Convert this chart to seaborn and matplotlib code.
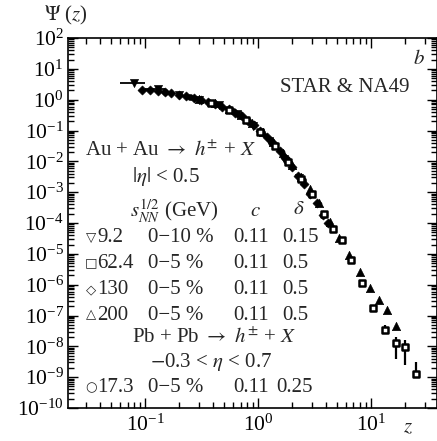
import numpy as np
import pandas as pd
import matplotlib
matplotlib.use("Agg")
import matplotlib.pyplot as plt
import seaborn as sns
from matplotlib.ticker import LogLocator, NullFormatter, FixedLocator

# Au+Au 9.2 GeV (down triangles)
z_92 = [0.08, 0.13, 0.2, 0.3, 0.45, 0.65, 0.9, 1.25, 1.7, 2.3]
psi_92 = [3.5, 2.2, 1.45, 1.0, 0.65, 0.34, 0.14, 0.045, 0.012, 0.0028]
zerr_lo_92 = [0.02, 0.03, 0, 0, 0, 0, 0, 0, 0, 0]
zerr_hi_92 = [0.02, 0.02, 0, 0, 0, 0, 0, 0, 0, 0]

# Au+Au 130 GeV (diamonds)
z_130 = [0.094, 0.11, 0.13, 0.15, 0.17, 0.2, 0.23, 0.27, 0.31, 0.36, 0.42,
         0.48, 0.55, 0.63, 0.72, 0.82, 0.93, 1.05, 1.2, 1.36, 1.55, 1.75,
         2.0, 2.25, 2.55, 2.9, 3.3, 3.75, 4.2]
psi_130 = [2.0, 2.1, 1.95, 1.8, 1.65, 1.45, 1.3, 1.12, 0.98, 0.85, 0.72,
           0.6, 0.48, 0.38, 0.29, 0.21, 0.15, 0.1, 0.063, 0.038, 0.022, 0.0125,
           0.0065, 0.0034, 0.0018, 9.0e-4, 4.3e-4, 1.8e-4, 1.0e-4]

# Au+Au 200 GeV (up triangles)
z_200 = [0.3, 0.42, 0.55, 0.7, 0.88, 1.1, 1.35, 1.65, 2.0, 2.4, 2.9, 3.5,
         4.3, 5.2, 6.4, 8.0, 9.8, 11.8, 13.8, 16.6]
psi_200 = [1.05, 0.76, 0.5, 0.32, 0.18, 0.089, 0.042, 0.018, 0.0076, 0.0032,
           0.0013, 4.5e-4, 1.1e-4, 3.2e-5, 8.9e-6, 2.5e-6, 7.9e-7, 3.2e-7, 1.5e-7, 4.5e-8]

# Au+Au 62.4 GeV (squares)
z_624 = [0.38, 0.55, 0.78, 1.05, 1.4, 1.85, 2.4, 3.0, 3.8, 4.6, 5.5, 6.7,
         8.3, 10.4, 13.3, 16.5, 20.0, 25.0]
psi_624 = [0.79, 0.47, 0.22, 0.089, 0.032, 0.0095, 0.0026, 8.9e-4, 1.9e-4,
           6.3e-5, 2.8e-5, 6.3e-6, 1.1e-6, 1.7e-7, 3.3e-8, 1.26e-8, 9.3e-9, 1.3e-9]
psi_lo_624 = [0.79, 0.47, 0.22, 0.089, 0.032, 0.0095, 0.0026, 8.9e-4, 1.9e-4,
              6.3e-5, 2.2e-5, 5.0e-6, 0.9e-6, 1.4e-7, 2.5e-8, 3.8e-9, 2.5e-9, 1.3e-9]
psi_hi_624 = [0.79, 0.47, 0.22, 0.089, 0.032, 0.0095, 0.0026, 8.9e-4, 1.9e-4,
              6.3e-5, 3.5e-5, 8.0e-6, 1.4e-6, 2.1e-7, 5.0e-8, 1.95e-8, 1.55e-8, 3.0e-9]

# Pb+Pb 17.3 GeV (circles)
z_173 = [0.15, 0.25, 0.4, 0.6, 0.9, 1.3, 1.8, 2.5]
psi_173 = [1.78, 1.23, 0.79, 0.42, 0.16, 0.045, 0.0117, 0.0025]

# axis ticks
x_major = [0.1, 1.0, 10.0]
y_major = [10.0 ** k for k in range(-10, 3)]

# legend table
rows_energy = ["9.2", "62.4", "130", "200"]
rows_cent = ["0\u221210 %", "0\u22125 %", "0\u22125 %", "0\u22125 %"]
rows_c = ["0.11", "0.11", "0.11", "0.11"]
rows_delta = ["0.15", "0.5", "0.5", "0.5"]
rows_sym = ["\u25bd", "\u25a1", "\u25c7", "\u25b3"]

sns.set_style("ticks")
plt.rcParams["font.family"] = ["Liberation Serif", "DejaVu Serif"]
plt.rcParams["mathtext.fontset"] = "stix"

W, H = 437, 441
fig = plt.figure(figsize=(W / 100, H / 100), dpi=100)
ax = fig.add_axes([68 / W, 1 - 408 / H, (437 - 68) / W, (408 - 38) / H])

df92 = pd.DataFrame({"z": z_92, "psi": psi_92})
df130 = pd.DataFrame({"z": z_130, "psi": psi_130})
df200 = pd.DataFrame({"z": z_200, "psi": psi_200})
df624 = pd.DataFrame({"z": z_624, "psi": psi_624})
df173 = pd.DataFrame({"z": z_173, "psi": psi_173})

ax.errorbar(z_92, psi_92, xerr=[zerr_lo_92, zerr_hi_92], fmt="none",
            ecolor="k", elinewidth=1.3, capsize=0)
yerr_624 = [np.array(psi_624) - np.array(psi_lo_624),
            np.array(psi_hi_624) - np.array(psi_624)]
ax.errorbar(z_624, psi_624, yerr=yerr_624, fmt="none", ecolor="k",
            elinewidth=1.6, capsize=0)

sns.scatterplot(data=df173, x="z", y="psi", marker="o", s=20, color="k",
                edgecolor="k", ax=ax, zorder=3)
sns.scatterplot(data=df92, x="z", y="psi", marker="v", s=34, color="k",
                edgecolor="k", ax=ax, zorder=3)
sns.scatterplot(data=df130, x="z", y="psi", marker="D", s=22, color="k",
                edgecolor="k", ax=ax, zorder=3)
sns.scatterplot(data=df200, x="z", y="psi", marker="^", s=36, color="k",
                edgecolor="k", ax=ax, zorder=4)
sns.scatterplot(data=df624, x="z", y="psi", marker="s", s=18, color="white",
                edgecolor="k", linewidth=1.8, ax=ax, zorder=5)

ax.set_xscale("log")
ax.set_yscale("log")
ax.set_xlim(0.0208, 38.4)
ax.set_ylim(1e-10, 1e2)
ax.set_xlabel("")
ax.set_ylabel("")

ax.yaxis.set_major_locator(FixedLocator(y_major))
ax.yaxis.set_minor_locator(LogLocator(base=10, subs=np.arange(2, 10), numticks=200))
ax.yaxis.set_minor_formatter(NullFormatter())
ax.xaxis.set_major_locator(FixedLocator(x_major))
ax.xaxis.set_minor_locator(LogLocator(base=10, subs=np.arange(2, 10), numticks=100))
ax.xaxis.set_minor_formatter(NullFormatter())
ax.tick_params(which="both", direction="in", top=True, right=True,
               labelsize=15.5, width=1, colors="k")
ax.tick_params(which="major", length=7)
ax.tick_params(which="minor", length=4)
ax.tick_params(axis="x", which="major", pad=5)
ax.tick_params(axis="y", which="major", pad=3)
for sp in ax.spines.values():
    sp.set_linewidth(1.2)
    sp.set_color("k")

fs = 15


def put(px, py, s, **kw):
    fig.text(px / W, 1 - py / H, s, ha=kw.pop("ha", "left"), va="center",
             fontsize=kw.pop("fontsize", fs), **kw)


put(44, 15, r"$\Psi$ ($z$)")
put(403, 428, r"$z$")
put(413, 59, r"$b$")
put(280, 88, "STAR & NA49")
put(85, 151, r"Au + Au $\rightarrow$ $h^{\pm}$ + $X$")
put(132, 176, r"$|\eta|$ < 0.5")
put(130, 211, r"$s_{NN}^{1/2}$ (GeV)")
put(250, 212, r"$c$")
put(293, 210, r"$\delta$")

row_y = [237, 263, 290, 315]
for yy, sym, en, ce, cc, dd in zip(row_y, rows_sym, rows_energy, rows_cent,
                                   rows_c, rows_delta):
    put(91, yy, sym, ha="center", fontsize=9.5, family="DejaVu Sans",
        fontweight="bold")
    put(97, yy, en)
    put(148, yy, ce)
    put(233, yy, cc)
    put(282, yy, dd)

put(132, 338, r"Pb + Pb $\rightarrow$ $h^{\pm}$ + $X$")
put(150, 362, r"$-$0.3 < $\eta$ < 0.7")
put(91, 388, "\u25cb", ha="center", fontsize=9.5, family="DejaVu Sans",
    fontweight="bold")
put(97, 388, "17.3")
put(148, 388, "0\u22125 %")
put(233, 388, "0.11")
put(276, 388, "0.25")

fig.savefig("out.png", dpi=100)
